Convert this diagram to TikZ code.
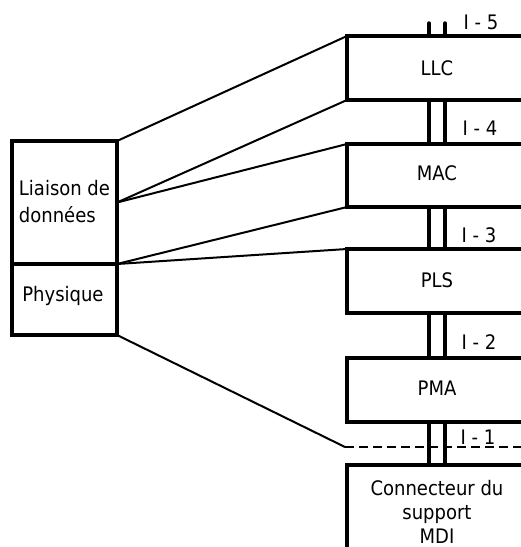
\documentclass[tikz,border=0pt]{standalone}
\usepackage{fontspec}
\setmainfont{DejaVu Sans Condensed}
\begin{document}
\begin{tikzpicture}[x=1pt,y=-1pt,
  box/.style={draw,line width=3.4pt,outer sep=0pt,inner sep=0pt,anchor=north west,align=center},
  layer/.style={box,minimum width=200pt},
  thin/.style={line width=2pt},
  iface/.style={line width=3.4pt},
  lbl/.style={font=\fontsize{20}{23}\selectfont},
  ilbl/.style={font=\fontsize{20}{23}\selectfont}]
\useasboundingbox (0,0) rectangle (521,547);
\clip (0,0) rectangle (521,547);
% left boxes
\node[box,minimum width=105pt,minimum height=123pt] (dl) at (12,141) {};
\node[box,minimum width=105pt,minimum height=71pt] (phys) at (12,264) {};
\node[lbl,align=left] (dltxt) at (64.5,202) {Liaison de\\[4pt]données};
\node[lbl] (phystxt) at (63,296) {Physique};
% right layers
\node[layer,minimum height=64pt] (llc) at (347,36) {};
\node[layer,minimum height=63pt] (mac) at (347,144) {};
\node[layer,minimum height=64pt] (pls) at (347,249) {};
\node[layer,minimum height=64pt] (pma) at (347,358) {};
\node[layer,minimum height=100pt] (mdi) at (347,465) {};
\node[lbl] (llctxt) at (437,68) {LLC};
\node[lbl] (mactxt) at (437,173) {MAC};
\node[lbl] (plstxt) at (437,280) {PLS};
\node[lbl] (pmatxt) at (437,388) {PMA};
\node[lbl,align=center] (mditxt) at (437,512) {Connecteur du\\[1pt]support\\[1pt]MDI};
% interfaces
\foreach \a/\b in {llc/mac,mac/pls,pls/pma,pma/mdi}{
  \draw[iface] ([xshift=82pt]\a.south west) -- ([xshift=82pt]\b.north west);
  \draw[iface] ([xshift=98pt]\a.south west) -- ([xshift=98pt]\b.north west);
}
\draw[iface,line cap=round] ([xshift=82pt]llc.north west) -- ++(0,-13);
\draw[iface,line cap=round] ([xshift=98pt]llc.north west) -- ++(0,-13);
\node[ilbl] (i5) at (481,22) {I - 5};
\node[ilbl] (i4) at (480,128) {I - 4};
\node[ilbl] (i3) at (479,235) {I - 3};
\node[ilbl] (i2) at (479,342) {I - 2};
\node[ilbl] (i1) at (478,437) {I - 1};
% mapping lines
\draw[thin] (dl.north east) -- (llc.north west);
\draw[thin] (dl.east) -- (llc.south west);
\draw[thin] (dl.east) -- (mac.north west);
\draw[thin] (dl.south east) -- (mac.south west);
\draw[thin] (dl.south east) -- (pls.north west);
\coordinate (d1) at (345,447);
\coordinate (d2) at (530,447);
\draw[thin] (phys.south east) -- (d1);
\draw[thin,dashed,dash pattern=on 9pt off 5pt] (d1) -- (d2);
\end{tikzpicture}
\end{document}
